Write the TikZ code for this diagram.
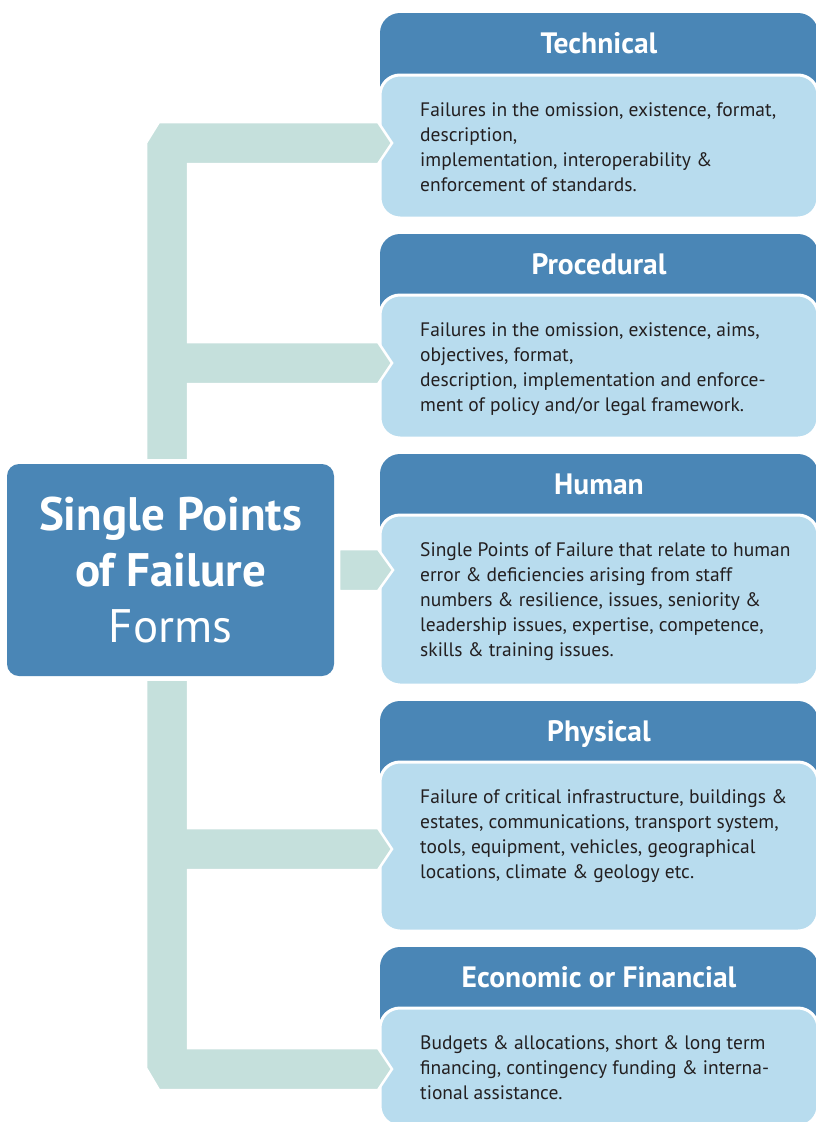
\documentclass[tikz,border=0pt]{standalone}
\usepackage{fontspec}
\setmainfont{PT Sans}
\definecolor{hdr}{HTML}{4A86B6}
\definecolor{bodyc}{HTML}{B8DCEE}
\definecolor{bandc}{HTML}{C5E0DC}
\definecolor{txt}{HTML}{231F20}
\tikzset{
  hdrbox/.style={fill=hdr, rounded corners=20pt},
  bodybox/.style={fill=bodyc, draw=white, line width=3pt, rounded corners=20pt},
  titletext/.style={text=white, anchor=base, inner sep=0pt, font=\fontsize{29.5}{31}\selectfont\bfseries},
  desc/.style={text=txt, anchor=base west, inner sep=0pt, font=\fontsize{19.5}{25}\selectfont},
  bandshape/.style={fill=bandc, draw=white, line width=2.5pt, line join=miter},
}
% #1 name, #2 header top, #3 body top, #4 body bottom, #5 title, #6 text
\newcommand{\spfcard}[6]{%
  \fill[hdrbox] (380,#2) rectangle (818,#3+30);
  \node[titletext] (#1h) at (599,#2+40) {#5};
  \path[bodybox] (380,#3) rectangle (818,#4);
  \node[desc] (#1b) at (420,#3+41) {\parbox[t]{392pt}{\raggedright #6}};
}
\begin{document}
\begin{tikzpicture}[x=1pt,y=-1pt]
\useasboundingbox (0,0) rectangle (816,1122);
% cards
\spfcard{tech}{13}{75}{218}{Technical}{Failures in the omission, existence, format,\\description,\\implementation, interoperability \&\\enforcement of standards.}
\spfcard{proc}{234}{295}{438}{Procedural}{Failures in the omission, existence, aims,\\objectives, format,\\description, implementation and enforce-\\ment of policy and/or legal framework.}
\spfcard{hum}{454}{515}{685}{Human}{Single Points of Failure that relate to human\\error \& deficiencies arising from staff\\numbers \& resilience, issues, seniority \&\\leadership issues, expertise, competence,\\skills \& training issues.}
\spfcard{phys}{701}{762}{931}{Physical}{Failure of critical infrastructure, buildings \&\\estates, communications, transport system,\\tools, equipment, vehicles, geographical\\locations, climate \& geology etc.}
\spfcard{econ}{947}{1008}{1126}{Economic or Financial}{Budgets \& allocations, short \& long term\\financing, contingency funding \& interna-\\tional assistance.}
% connector band
\path[bandshape] (146,143) -- (159,122) -- (378,122) -- (392,143) -- (378,164) -- (188,164)
  -- (188,342) -- (378,342) -- (392,363) -- (378,384) -- (188,384)
  -- (188,828) -- (378,828) -- (392,849) -- (378,870) -- (188,870)
  -- (188,1048) -- (378,1048) -- (392,1069) -- (378,1090) -- (159,1090) -- (146,1068) -- cycle;
\path[bandshape] (339,549) -- (378,549) -- (393,570) -- (378,591) -- (339,591) -- cycle;
% gap around the centre box
\fill[white] (0,459) rectangle (337,681);
% centre box
\node[fill=hdr, rounded corners=12pt, minimum width=327pt, minimum height=212pt, inner sep=0pt,
      text=white, align=center, font=\fontsize{47}{56}\selectfont] (c) at (170.5,570)
  {\bfseries Single Points\\\bfseries of Failure\\Forms};
\end{tikzpicture}
\end{document}
